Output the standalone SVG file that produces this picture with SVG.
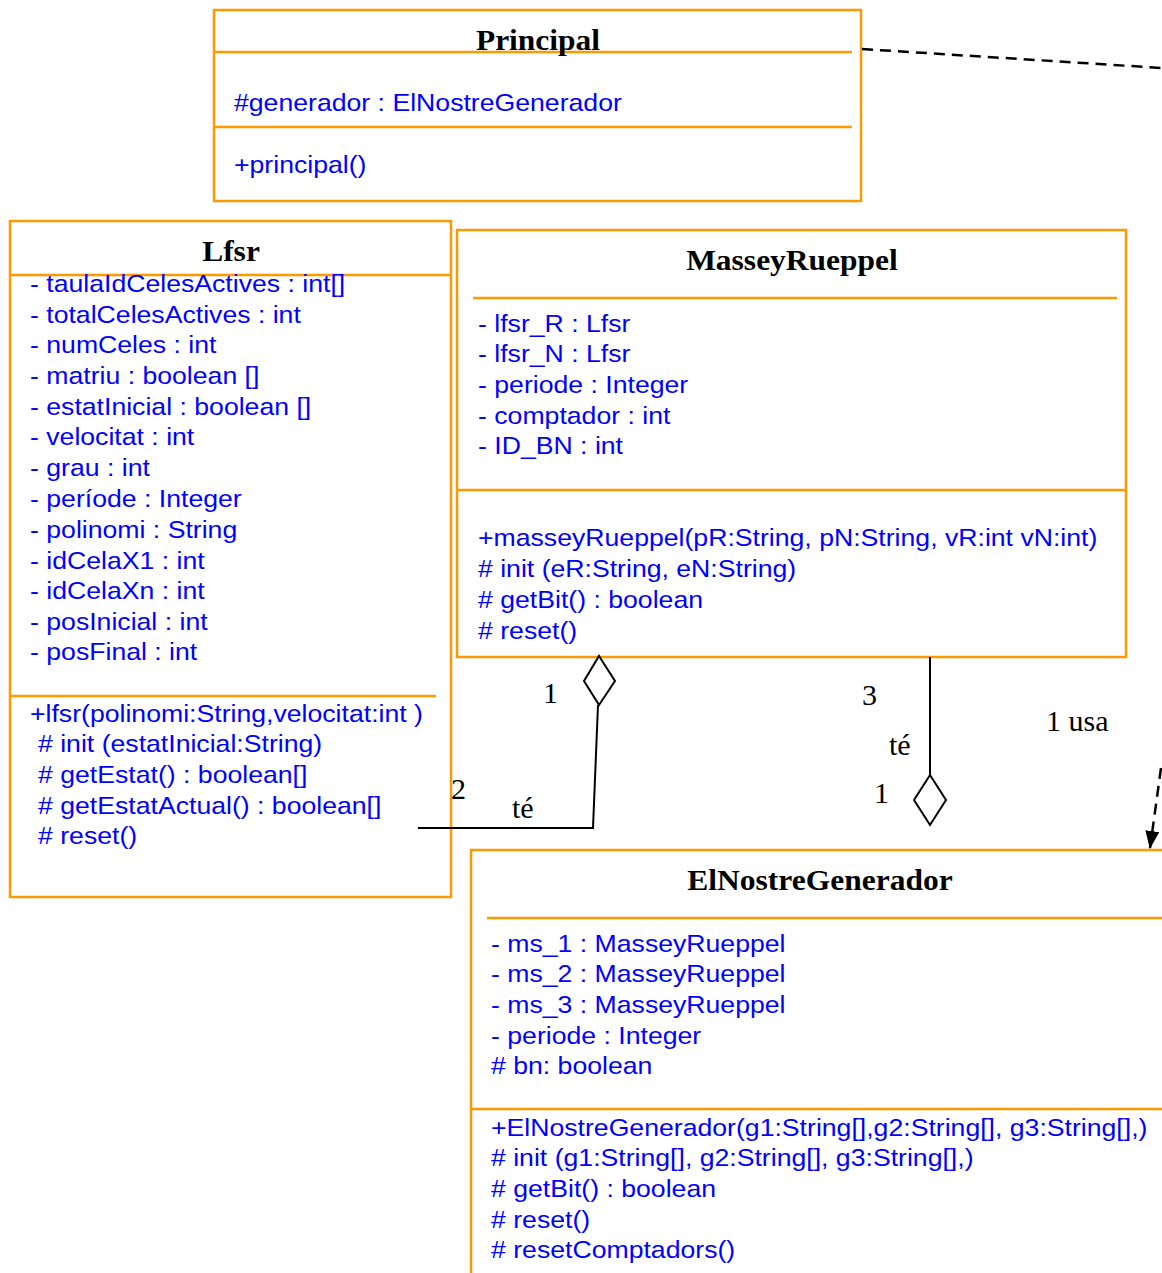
<svg xmlns="http://www.w3.org/2000/svg" width="1162" height="1273" viewBox="0 0 1162 1273">
<style>
.box{fill:#fff;stroke:#FF9900;stroke-width:2.5}
.sep{stroke:#FF9900;stroke-width:2.5;fill:none}
.t{font-family:"Liberation Sans",Arial,sans-serif;font-size:24px;fill:#0000FF}
.title{font-family:"Liberation Serif","Times New Roman",serif;font-size:30px;font-weight:bold;fill:#000;text-anchor:middle}
.lbl{font-family:"Liberation Serif","Times New Roman",serif;font-size:30px;fill:#000}
.ln{stroke:#000;stroke-width:2;fill:none}
.dash{stroke:#000;stroke-width:2.5;fill:none;stroke-dasharray:11 7}
.dia{fill:#fff;stroke:#000;stroke-width:2}
</style>
<defs>
<marker id="arr" markerWidth="18" markerHeight="14" refX="17" refY="7" orient="auto" markerUnits="userSpaceOnUse">
<path d="M0,0 L18,7 L0,14 Z" fill="#000"/>
</marker>
</defs>

<g id="principal">
<rect class="box" x="214" y="10" width="647" height="191"/>
<line class="sep" x1="214" y1="52" x2="852" y2="52"/>
<line class="sep" x1="214" y1="127" x2="852" y2="127"/>
<text class="title" transform="translate(538,50) scale(1.05,1)">Principal</text>
<text class="t" transform="translate(234,111) scale(1.11,1)">#generador : ElNostreGenerador</text>
<text class="t" transform="translate(234,173) scale(1.11,1)">+principal()</text>
</g>

<g id="lfsr">
<rect class="box" x="10" y="221" width="441" height="676"/>
<line class="sep" x1="10" y1="275" x2="451" y2="275"/>
<line class="sep" x1="10" y1="696" x2="436" y2="696"/>
<text class="title" transform="translate(231,261) scale(1.05,1)">Lfsr</text>
<g class="t">
<text transform="translate(30,292) scale(1.11,1)">- taulaIdCelesActives : int[]</text>
<text transform="translate(30,323) scale(1.11,1)">- totalCelesActives : int</text>
<text transform="translate(30,353) scale(1.11,1)">- numCeles : int</text>
<text transform="translate(30,384) scale(1.11,1)">- matriu : boolean []</text>
<text transform="translate(30,415) scale(1.11,1)">- estatInicial : boolean []</text>
<text transform="translate(30,445) scale(1.11,1)">- velocitat : int</text>
<text transform="translate(30,476) scale(1.11,1)">- grau : int</text>
<text transform="translate(30,507) scale(1.11,1)">- període : Integer</text>
<text transform="translate(30,538) scale(1.11,1)">- polinomi : String</text>
<text transform="translate(30,569) scale(1.11,1)">- idCelaX1 : int</text>
<text transform="translate(30,599) scale(1.11,1)">- idCelaXn : int</text>
<text transform="translate(30,630) scale(1.11,1)">- posInicial : int</text>
<text transform="translate(30,660) scale(1.11,1)">- posFinal : int</text>
<text transform="translate(30,722) scale(1.11,1)">+lfsr(polinomi:String,velocitat:int )</text>
<text transform="translate(38,752) scale(1.11,1)"># init (estatInicial:String)</text>
<text transform="translate(38,783) scale(1.11,1)"># getEstat() : boolean[]</text>
<text transform="translate(38,814) scale(1.11,1)"># getEstatActual() : boolean[]</text>
<text transform="translate(38,844) scale(1.11,1)"># reset()</text>
</g>
</g>

<g id="masseyrueppel">
<rect class="box" x="457" y="230" width="669" height="427"/>
<line class="sep" x1="473" y1="298" x2="1117" y2="298"/>
<line class="sep" x1="457" y1="490" x2="1126" y2="490"/>
<text class="title" transform="translate(792,270) scale(1.05,1)">MasseyRueppel</text>
<g class="t">
<text transform="translate(478,332) scale(1.11,1)">- lfsr_R : Lfsr</text>
<text transform="translate(478,362) scale(1.11,1)">- lfsr_N : Lfsr</text>
<text transform="translate(478,393) scale(1.11,1)">- periode : Integer</text>
<text transform="translate(478,424) scale(1.11,1)">- comptador : int</text>
<text transform="translate(478,454) scale(1.11,1)">- ID_BN : int</text>
<text transform="translate(478,546) scale(1.11,1)">+masseyRueppel(pR:String, pN:String, vR:int vN:int)</text>
<text transform="translate(478,577) scale(1.11,1)"># init (eR:String, eN:String)</text>
<text transform="translate(478,608) scale(1.11,1)"># getBit() : boolean</text>
<text transform="translate(478,639) scale(1.11,1)"># reset()</text>
</g>
</g>

<g id="elnostregenerador">
<rect class="box" x="471" y="850" width="720" height="440"/>
<line class="sep" x1="487" y1="918" x2="1162" y2="918"/>
<line class="sep" x1="471" y1="1109" x2="1162" y2="1109"/>
<text class="title" transform="translate(820,890) scale(1.05,1)">ElNostreGenerador</text>
<g class="t">
<text transform="translate(491,952) scale(1.11,1)">- ms_1 : MasseyRueppel</text>
<text transform="translate(491,982) scale(1.11,1)">- ms_2 : MasseyRueppel</text>
<text transform="translate(491,1013) scale(1.11,1)">- ms_3 : MasseyRueppel</text>
<text transform="translate(491,1044) scale(1.11,1)">- periode : Integer</text>
<text transform="translate(491,1074) scale(1.11,1)"># bn: boolean</text>
<text transform="translate(491,1136) scale(1.11,1)">+ElNostreGenerador(g1:String[],g2:String[], g3:String[],)</text>
<text transform="translate(491,1166) scale(1.11,1)"># init (g1:String[], g2:String[], g3:String[],)</text>
<text transform="translate(491,1197) scale(1.11,1)"># getBit() : boolean</text>
<text transform="translate(491,1228) scale(1.11,1)"># reset()</text>
<text transform="translate(491,1258) scale(1.11,1)"># resetComptadors()</text>
</g>
</g>

<g id="connectors">
<line class="dash" x1="862" y1="49" x2="1162" y2="68"/>
<line class="dash" x1="1161" y1="768" x2="1150" y2="848" marker-end="url(#arr)"/>
<polyline class="ln" points="598,705 593,828 418,828"/>
<polygon class="dia" points="599,656 615,681 599,705 584,681"/>
<line class="ln" x1="930" y1="657" x2="930" y2="775"/>
<polygon class="dia" points="930,775 946,800 930,825 914,800"/>
<g class="lbl">
<text x="543" y="703">1</text>
<text x="451" y="799">2</text>
<text x="512" y="818">té</text>
<text x="862" y="705">3</text>
<text x="889" y="755">té</text>
<text x="874" y="803">1</text>
<text x="1046" y="731">1 usa</text>
</g>
</g>
</svg>
